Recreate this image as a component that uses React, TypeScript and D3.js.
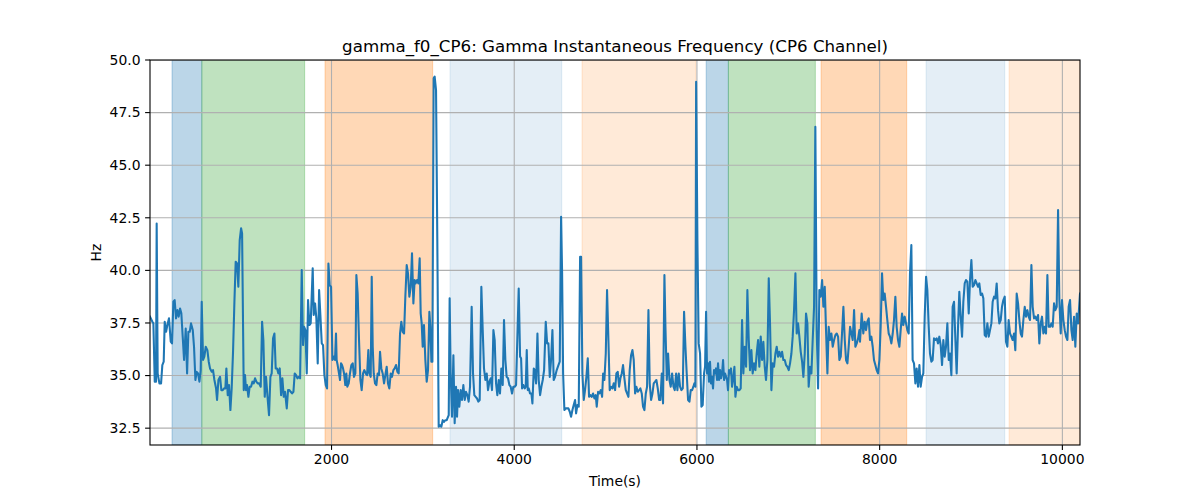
import * as d3 from "d3";

// [time (s), Hz] readings, split by stretch of the recording
const traceA: [number, number][] = [
  [13, 37.8], [39, 37.56], [50, 37.48], [65, 34.71], [79, 34.71], [86, 42.23], [97, 35.1], [116, 34.63],
  [134, 34.63], [148, 35.5], [163, 35.66], [174, 37.56], [189, 37.08], [203, 37.4], [221, 37.72], [240, 36.61],
  [254, 36.53], [269, 38.51], [283, 38.59], [298, 37.72], [313, 38.11], [327, 37.8], [342, 38.19], [356, 37.96],
  [371, 36.85], [386, 35.74], [404, 37.24], [419, 35.1], [433, 37.08], [448, 37.08], [462, 37.48], [481, 37.16],
  [495, 36.37], [510, 34.79], [524, 35.18], [539, 35.1], [554, 34.71], [568, 35.26], [579, 38.51], [594, 35.74],
  [608, 35.9], [623, 36.37], [641, 36.21], [656, 35.66], [670, 35.34], [689, 35.18], [703, 35.26], [718, 34.79],
  [736, 34.39], [747, 33.84], [762, 34.79], [780, 34.94], [794, 34.31], [809, 34.31], [824, 34.39], [838, 34.39],
  [849, 35.34], [864, 34.07], [878, 34.55], [893, 33.36], [907, 34.39], [922, 36.13], [937, 38.51], [951, 40.41],
  [966, 40.33], [980, 39.22], [995, 41.44], [1010, 42.0], [1021, 41.76], [1039, 34.31], [1053, 35.02], [1064, 34.31],
  [1075, 34.55], [1090, 33.99], [1104, 34.47], [1119, 34.47], [1134, 34.71], [1148, 34.63], [1163, 34.87], [1177, 34.71],
  [1192, 34.63], [1207, 34.63], [1225, 34.47], [1240, 37.56], [1254, 36.69], [1269, 33.99], [1283, 34.94], [1302, 33.84],
  [1316, 33.12], [1331, 34.94], [1345, 35.1], [1360, 36.77], [1375, 37.0], [1389, 35.34], [1404, 35.34], [1418, 35.1],
  [1433, 35.34], [1448, 34.07], [1462, 34.87], [1477, 33.99], [1491, 34.23], [1510, 33.44], [1524, 34.31], [1539, 34.31],
  [1553, 34.23], [1568, 34.15], [1583, 34.23], [1597, 35.1], [1612, 35.02], [1627, 34.87], [1641, 34.94], [1656, 34.87],
  [1674, 40.02], [1688, 36.45], [1699, 37.32], [1714, 37.16], [1729, 35.1], [1743, 38.59], [1758, 37.4], [1772, 37.48],
  [1794, 40.1], [1805, 37.88], [1820, 38.43], [1834, 37.72], [1849, 35.58], [1864, 39.06], [1878, 37.88], [1893, 36.53],
  [1907, 36.45], [1922, 35.02], [1937, 34.55], [1951, 34.39], [1966, 40.33], [1980, 39.3], [1995, 39.22], [2010, 35.74],
  [2024, 35.9],
];

const traceB: [number, number][] = [
  [2038, 35.74], [2049, 37.0], [2056, 35.74], [2067, 35.5], [2082, 35.1], [2093, 34.79], [2104, 35.58], [2115, 35.5],
  [2126, 35.34], [2137, 35.1], [2151, 34.55], [2162, 35.1], [2173, 34.47], [2188, 34.63], [2202, 35.1], [2217, 35.5],
  [2232, 35.58], [2246, 34.94], [2261, 35.1], [2272, 39.78], [2286, 38.9], [2301, 36.69], [2316, 34.79], [2330, 34.31],
  [2345, 35.1], [2359, 35.26], [2374, 35.1], [2389, 35.02], [2403, 36.21], [2414, 35.1], [2429, 34.94], [2440, 39.7],
  [2451, 36.37], [2462, 35.1], [2476, 34.63], [2491, 34.55], [2505, 35.1], [2520, 35.02], [2531, 36.13], [2545, 35.34],
  [2560, 35.1], [2575, 34.63], [2589, 35.02], [2604, 35.42], [2618, 34.63], [2633, 34.39], [2648, 35.1], [2662, 34.94],
  [2677, 35.26], [2691, 35.34], [2706, 35.5], [2721, 35.18], [2735, 35.1], [2750, 37.0], [2764, 37.56], [2779, 37.08],
  [2794, 37.0], [2808, 38.75], [2823, 40.25], [2837, 39.86], [2852, 38.75], [2867, 39.22], [2881, 40.81], [2896, 38.43],
  [2910, 39.54], [2921, 39.38], [2936, 39.54], [2950, 39.38], [2965, 40.57], [2976, 37.95], [2987, 37.48], [2998, 36.37],
  [3012, 37.4], [3027, 35.74], [3042, 34.71], [3056, 35.26], [3071, 38.03], [3082, 37.32], [3093, 35.66], [3104, 35.66],
  [3118, 49.13], [3129, 49.21], [3144, 48.57], [3158, 41.44], [3173, 32.57], [3188, 32.64], [3202, 32.57], [3217, 32.88],
  [3231, 32.8], [3246, 32.88], [3261, 32.88], [3275, 33.04], [3283, 33.12], [3293, 38.67], [3304, 35.1], [3319, 33.04],
  [3334, 35.97], [3348, 32.73], [3363, 34.47], [3374, 33.04], [3385, 34.31], [3399, 33.52], [3414, 34.31], [3428, 33.84],
  [3443, 34.55], [3458, 33.84], [3472, 34.23], [3487, 34.07], [3501, 33.76], [3516, 34.47], [3534, 38.27], [3549, 35.1],
  [3563, 34.07], [3578, 33.99], [3593, 33.91], [3607, 33.76], [3622, 33.84], [3640, 39.22], [3655, 37.16], [3669, 35.34],
  [3684, 34.79], [3699, 35.1], [3713, 34.31], [3728, 34.71], [3742, 34.87], [3757, 34.31], [3772, 37.16], [3786, 36.69],
  [3801, 34.63], [3815, 34.07], [3830, 34.79], [3844, 34.15], [3859, 35.34], [3874, 34.55], [3888, 37.64], [3903, 35.74],
  [3917, 34.94], [3932, 34.87], [3947, 34.55], [3961, 34.47], [3976, 34.15], [3990, 34.47], [4005, 34.47], [4020, 34.55],
  [4049, 39.14],
];

const traceC: [number, number][] = [
  [4064, 35.9], [4075, 35.82], [4086, 34.39], [4100, 34.55], [4115, 34.39], [4126, 34.47], [4137, 36.21], [4148, 34.31],
  [4159, 34.39], [4173, 34.15], [4188, 34.15], [4199, 33.68], [4214, 35.34], [4224, 35.26], [4239, 34.63], [4254, 37.0],
  [4268, 34.79], [4283, 34.07], [4297, 34.47], [4312, 34.79], [4327, 35.26], [4345, 37.56], [4360, 36.53], [4374, 36.53],
  [4389, 34.94], [4403, 35.74], [4418, 37.16], [4432, 34.79], [4447, 34.94], [4465, 35.26], [4484, 35.5], [4498, 35.66],
  [4513, 42.55], [4524, 39.86], [4535, 35.1], [4549, 33.36], [4564, 33.44], [4578, 33.44], [4593, 33.44], [4608, 33.28],
  [4622, 33.04], [4637, 33.36], [4651, 33.6], [4666, 33.84], [4677, 33.2], [4692, 33.6], [4706, 33.52], [4721, 40.65],
  [4732, 40.65], [4746, 35.1], [4761, 33.84], [4775, 34.31], [4790, 34.94], [4805, 35.82], [4819, 33.99], [4834, 34.07],
  [4848, 33.99], [4863, 34.15], [4878, 33.91], [4892, 34.07], [4903, 33.52], [4918, 34.23], [4932, 34.15], [4947, 34.31],
  [4962, 33.99], [4973, 35.1], [4987, 34.79], [5002, 36.05], [5016, 39.06], [5031, 36.69], [5045, 34.31], [5060, 34.47],
  [5075, 34.39], [5089, 34.63], [5104, 34.31], [5118, 35.1], [5133, 35.18], [5148, 34.47], [5162, 34.87], [5177, 35.1],
  [5191, 35.5], [5206, 34.87], [5221, 34.31], [5235, 34.15], [5250, 33.99], [5264, 35.26], [5279, 35.97], [5294, 36.21],
  [5308, 35.74], [5323, 34.15], [5337, 34.47], [5352, 34.23], [5367, 34.31], [5381, 34.39], [5396, 34.15], [5410, 33.52],
  [5425, 33.36], [5440, 34.15], [5454, 34.47], [5469, 38.11], [5483, 34.63], [5498, 33.84], [5513, 34.15], [5527, 34.63],
  [5542, 34.71], [5556, 34.79], [5571, 34.39], [5586, 33.84], [5600, 33.84], [5615, 35.1], [5629, 33.68], [5644, 39.78],
  [5655, 37.32], [5670, 34.79], [5684, 36.05], [5699, 34.79], [5713, 34.47], [5728, 35.1], [5743, 34.47], [5757, 34.31],
  [5772, 35.1], [5786, 34.31], [5801, 35.1], [5815, 34.47], [5830, 34.31], [5845, 34.39], [5859, 38.03], [5874, 36.37],
  [5888, 35.1], [5903, 33.84], [5918, 33.76], [5932, 34.31], [5947, 34.31], [5961, 34.47], [5972, 34.63], [5983, 34.47],
  [5991, 48.97],
];

const traceD: [number, number][] = [
  [6005, 41.44], [6019, 36.53], [6034, 36.05], [6049, 33.52], [6063, 33.6], [6078, 35.1], [6089, 35.42], [6100, 38.03],
  [6111, 35.1], [6122, 35.58], [6132, 34.71], [6143, 35.66], [6154, 34.63], [6165, 34.94], [6176, 34.39], [6187, 35.26],
  [6198, 35.1], [6209, 35.34], [6220, 34.79], [6231, 35.58], [6242, 34.79], [6253, 35.26], [6264, 34.87], [6275, 35.1],
  [6286, 35.74], [6297, 34.79], [6308, 35.1], [6319, 34.94], [6330, 34.79], [6340, 34.31], [6351, 35.26], [6362, 35.1],
  [6373, 35.34], [6384, 34.47], [6395, 34.79], [6410, 35.42], [6421, 33.99], [6435, 34.47], [6450, 34.31], [6465, 34.31],
  [6479, 34.39], [6494, 37.64], [6508, 35.1], [6523, 36.37], [6538, 35.42], [6552, 39.06], [6567, 36.69], [6581, 35.26],
  [6596, 36.21], [6610, 35.1], [6625, 35.58], [6640, 35.26], [6654, 36.05], [6669, 36.69], [6683, 35.42], [6698, 36.85],
  [6713, 35.74], [6727, 36.61], [6742, 35.42], [6756, 34.79], [6771, 35.74], [6786, 39.62], [6800, 37.48], [6815, 34.31],
  [6829, 35.58], [6844, 35.42], [6859, 36.05], [6873, 36.37], [6888, 35.9], [6902, 36.13], [6917, 35.9], [6932, 36.13],
  [6946, 35.74], [6961, 35.74], [6975, 35.5], [6990, 35.42], [7005, 35.26], [7019, 35.58], [7034, 36.05], [7048, 36.85],
  [7063, 38.11], [7078, 39.86], [7092, 37.0], [7107, 37.48], [7121, 36.85], [7136, 36.13], [7151, 35.66], [7165, 34.94],
  [7180, 36.05], [7194, 37.95], [7209, 37.48], [7223, 34.47], [7238, 35.42], [7253, 35.1], [7267, 36.69], [7282, 38.27],
  [7296, 46.83], [7311, 37.16], [7326, 34.39], [7340, 39.06], [7355, 38.75], [7370, 39.54], [7384, 38.27], [7399, 39.22],
  [7413, 37.16], [7428, 35.1], [7442, 37.32], [7457, 36.69], [7472, 37.0], [7486, 36.37], [7501, 36.69], [7515, 36.92],
  [7530, 37.0], [7545, 36.85], [7559, 35.74], [7574, 35.9], [7588, 37.0], [7603, 38.27], [7618, 36.69], [7632, 35.74],
  [7647, 35.58], [7661, 36.37], [7676, 37.32], [7691, 37.0], [7705, 36.69], [7720, 38.11], [7734, 36.37], [7749, 36.53],
  [7764, 36.77], [7778, 37.16],
];

const traceE: [number, number][] = [
  [7785, 36.61], [7803, 37.95], [7821, 37.0], [7836, 37.56], [7851, 37.16], [7865, 37.56], [7880, 37.72], [7894, 36.69],
  [7909, 36.85], [7924, 36.37], [7938, 35.74], [7953, 35.5], [7967, 35.26], [7982, 35.1], [7997, 35.74], [8011, 37.32],
  [8026, 39.86], [8040, 38.59], [8055, 38.9], [8070, 38.27], [8084, 37.64], [8099, 37.0], [8113, 36.85], [8128, 36.53],
  [8143, 37.0], [8157, 37.64], [8172, 38.75], [8186, 37.32], [8201, 36.69], [8216, 36.37], [8230, 37.16], [8245, 37.95],
  [8259, 37.4], [8274, 37.8], [8289, 37.48], [8303, 37.16], [8318, 37.0], [8332, 39.86], [8347, 41.2], [8361, 35.74],
  [8376, 35.58], [8391, 34.63], [8405, 35.34], [8420, 34.47], [8435, 35.5], [8449, 34.47], [8464, 34.94], [8478, 35.1],
  [8493, 37.8], [8508, 39.7], [8522, 39.06], [8537, 37.32], [8551, 36.05], [8566, 35.66], [8580, 35.74], [8595, 36.77],
  [8610, 36.69], [8624, 36.77], [8639, 36.53], [8653, 36.85], [8668, 36.45], [8683, 35.5], [8697, 36.69], [8712, 35.9],
  [8726, 36.37], [8741, 37.48], [8756, 35.74], [8770, 36.05], [8785, 35.02], [8799, 38.27], [8814, 38.51], [8829, 36.69],
  [8843, 35.1], [8858, 37.32], [8872, 38.98], [8887, 37.8], [8902, 36.85], [8916, 38.51], [8931, 39.38], [8945, 39.54],
  [8960, 39.46], [8975, 37.95], [8989, 39.54], [9004, 40.49], [9018, 39.22], [9033, 39.3], [9048, 39.54], [9062, 39.38],
  [9077, 39.22], [9091, 39.38], [9106, 38.83], [9121, 38.9], [9135, 38.67], [9150, 36.92], [9164, 36.85], [9179, 37.48],
  [9194, 36.85], [9208, 37.16], [9223, 37.48], [9237, 38.51], [9252, 38.75], [9266, 38.67], [9281, 39.38], [9296, 38.11],
  [9310, 37.48], [9325, 37.64], [9339, 38.27], [9354, 38.59], [9369, 38.75], [9383, 36.61], [9398, 36.37], [9412, 37.64],
  [9427, 37.0], [9442, 36.85], [9456, 36.69], [9471, 37.0], [9485, 36.21], [9500, 38.9], [9515, 38.43], [9529, 37.64],
  [9544, 37.0], [9558, 36.85], [9573, 37.64], [9588, 38.27], [9602, 37.8], [9617, 38.11], [9631, 37.8], [9646, 37.64],
  [9661, 40.25], [9675, 38.27], [9690, 37.72], [9704, 37.8], [9719, 37.64], [9734, 37.88], [9748, 36.53], [9763, 37.48],
  [9777, 37.8], [9792, 37.0], [9807, 37.32], [9821, 37.0], [9836, 39.78], [9850, 37.32], [9865, 37.32], [9880, 37.48],
  [9894, 37.32], [9909, 38.43], [9923, 38.11], [9938, 38.27], [9953, 42.87], [9967, 38.59], [9982, 37.0], [9996, 38.59],
  [10011, 37.64], [10026, 37.16], [10040, 36.85], [10055, 36.69], [10069, 38.27], [10084, 38.59], [10099, 37.16], [10113, 36.69],
  [10128, 37.8], [10142, 36.37], [10157, 37.95], [10172, 37.48], [10193, 38.9],
];

// shaded condition spans
const bandStart = [254, 580, 1929, 3297, 4742, 6101, 6344, 7359, 8508, 9417];
const bandEnd = [580, 1706, 3107, 4520, 5990, 6344, 7296, 8296, 9369, 10193];
const bandColor = ["#1f77b4", "#2ca02c", "#ff7f0e", "#1f77b4", "#ff7f0e", "#1f77b4", "#2ca02c", "#ff7f0e", "#1f77b4", "#ff7f0e"];
const bandAlpha = [0.3, 0.3, 0.3, 0.12, 0.16, 0.3, 0.3, 0.3, 0.12, 0.16];

const xTicks = [2000, 4000, 6000, 8000, 10000];
const yTicks = [32.5, 35.0, 37.5, 40.0, 42.5, 45.0, 47.5, 50.0];

const W = 1200;
const H = 500;
const m = { left: 150, right: 1080, top: 60, bottom: 445 };
const font = "DejaVu Sans, sans-serif";

export default function App() {
  const data = [...traceA, ...traceB, ...traceC, ...traceD, ...traceE];
  const x = d3.scaleLinear().domain([13, 10193]).range([m.left, m.right]);
  const y = d3.scaleLinear().domain([31.7, 50]).range([m.bottom, m.top]);
  const line = d3
    .line<[number, number]>()
    .x((d) => x(d[0]))
    .y((d) => y(d[1]));

  return (
    <svg
      width={W}
      height={H}
      style={{ position: "absolute", left: 0, top: 0, background: "#fff" }}
      fontFamily={font}
    >
      <defs>
        <clipPath id="plot">
          <rect x={m.left} y={m.top} width={m.right - m.left} height={m.bottom - m.top} />
        </clipPath>
      </defs>

      <g clipPath="url(#plot)">
        {bandStart.map((s, i) => (
          <rect
            key={i}
            x={x(s)}
            y={m.top}
            width={x(bandEnd[i]) - x(s)}
            height={m.bottom - m.top}
            fill={bandColor[i]}
            fillOpacity={bandAlpha[i]}
            stroke={bandColor[i]}
            strokeOpacity={bandAlpha[i]}
            strokeWidth={1}
          />
        ))}
        {xTicks.map((t) => (
          <line key={t} x1={x(t)} x2={x(t)} y1={m.top} y2={m.bottom} stroke="#b0b0b0" strokeWidth={1.1} />
        ))}
        {yTicks.map((t) => (
          <line key={t} x1={m.left} x2={m.right} y1={y(t)} y2={y(t)} stroke="#b0b0b0" strokeWidth={1.1} />
        ))}
        <path d={line(data) ?? ""} fill="none" stroke="#1f77b4" strokeWidth={2.08} strokeLinejoin="round" strokeLinecap="square" />
      </g>

      <rect
        x={m.left}
        y={m.top}
        width={m.right - m.left}
        height={m.bottom - m.top}
        fill="none"
        stroke="#000"
        strokeWidth={1.1}
      />

      {xTicks.map((t) => (
        <g key={t} transform={`translate(${x(t)},${m.bottom})`}>
          <line y2={4.9} stroke="#000" strokeWidth={1.1} />
          <text y={19} textAnchor="middle" fontSize={13.9} fill="#000">
            {t}
          </text>
        </g>
      ))}
      {yTicks.map((t) => (
        <g key={t} transform={`translate(${m.left},${y(t)})`}>
          <line x2={-4.9} stroke="#000" strokeWidth={1.1} />
          <text x={-9.5} dy="0.35em" textAnchor="end" fontSize={13.9} fill="#000">
            {t.toFixed(1)}
          </text>
        </g>
      ))}

      <text x={(m.left + m.right) / 2} y={52} textAnchor="middle" fontSize={16.7} fill="#000">
        gamma_f0_CP6: Gamma Instantaneous Frequency (CP6 Channel)
      </text>
      <text x={(m.left + m.right) / 2} y={486} textAnchor="middle" fontSize={13.9} fill="#000">
        Time(s)
      </text>
      <text
        transform={`translate(101,${(m.top + m.bottom) / 2}) rotate(-90)`}
        textAnchor="middle"
        fontSize={13.9}
        fill="#000"
      >
        Hz
      </text>
    </svg>
  );
}
